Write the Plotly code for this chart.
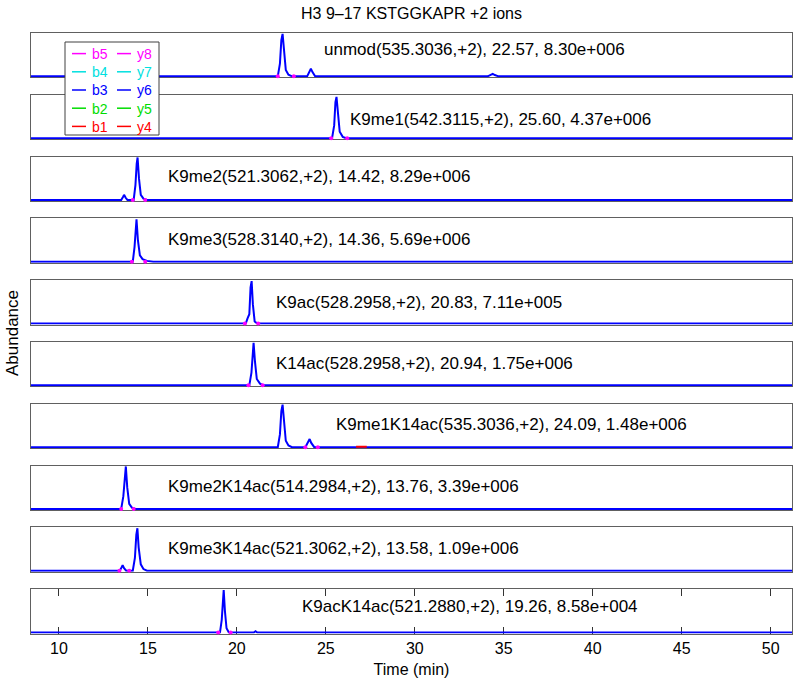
import plotly.graph_objects as go

# ---------------- data ----------------
title_text = "H3 9–17 KSTGGKAPR +2 ions"
panel_labels = [
    "unmod(535.3036,+2), 22.57, 8.30e+006",
    "K9me1(542.3115,+2), 25.60, 4.37e+006",
    "K9me2(521.3062,+2), 14.42, 8.29e+006",
    "K9me3(528.3140,+2), 14.36, 5.69e+006",
    "K9ac(528.2958,+2), 20.83, 7.11e+005",
    "K14ac(528.2958,+2), 20.94, 1.75e+006",
    "K9me1K14ac(535.3036,+2), 24.09, 1.48e+006",
    "K9me2K14ac(514.2984,+2), 13.76, 3.39e+006",
    "K9me3K14ac(521.3062,+2), 13.58, 1.09e+006",
    "K9acK14ac(521.2880,+2), 19.26, 8.58e+004",
]
label_x = [24.78, 26.24, 16.01, 16.01, 22.08, 22.08, 25.45, 16.01, 16.01, 23.54]
label_yfrac = [0.62, 0.45, 0.55, 0.52, 0.49, 0.52, 0.53, 0.52, 0.52, 0.62]

# normalised y6 chromatograms (time in min, relative abundance)
t1 = [8.4, 22.3, 22.42, 22.5, 22.57, 22.65, 22.75, 22.9, 23.1, 23.95, 24.08, 24.16, 24.25, 24.4, 34.1, 34.28, 34.38, 34.5, 34.7, 51.2]
i1 = [0, 0, 0.3, 0.85, 1.0, 0.55, 0.15, 0.04, 0, 0, 0.12, 0.18, 0.1, 0, 0, 0.04, 0.06, 0.03, 0, 0]
t2 = [8.4, 25.35, 25.47, 25.54, 25.6, 25.68, 25.78, 25.95, 26.15, 51.2]
i2 = [0, 0, 0.3, 0.85, 0.97, 0.6, 0.15, 0.03, 0, 0]
t3 = [8.4, 13.5, 13.6, 13.66, 13.75, 13.85, 14.2, 14.3, 14.37, 14.42, 14.5, 14.6, 14.75, 14.95, 51.2]
i3 = [0, 0, 0.07, 0.12, 0.05, 0, 0, 0.35, 0.85, 1.0, 0.5, 0.12, 0.03, 0, 0]
t4 = [8.4, 14.15, 14.25, 14.31, 14.36, 14.44, 14.55, 14.7, 14.95, 15.3, 51.2]
i4 = [0, 0, 0.35, 0.85, 1.0, 0.5, 0.15, 0.06, 0.02, 0, 0]
t5 = [8.4, 20.5, 20.6, 20.7, 20.77, 20.83, 20.9, 21.0, 21.15, 51.2]
i5 = [0, 0, 0.12, 0.22, 0.85, 1.0, 0.45, 0.05, 0, 0]
t6 = [8.4, 20.7, 20.82, 20.89, 20.94, 21.02, 21.12, 21.3, 21.5, 51.2]
i6 = [0, 0, 0.3, 0.85, 1.0, 0.55, 0.15, 0.04, 0, 0]
t7 = [8.4, 22.3, 22.42, 22.5, 22.57, 22.65, 22.75, 22.9, 23.1, 23.85, 24.0, 24.09, 24.18, 24.35, 51.2]
i7 = [0, 0, 0.3, 0.85, 1.0, 0.55, 0.15, 0.04, 0, 0, 0.13, 0.19, 0.1, 0, 0]
t8 = [8.4, 13.5, 13.62, 13.7, 13.76, 13.84, 13.95, 14.1, 14.3, 51.2]
i8 = [0, 0, 0.3, 0.85, 1.0, 0.5, 0.12, 0.03, 0, 0]
t9 = [8.4, 13.42, 13.52, 13.58, 13.66, 13.78, 14.15, 14.27, 14.35, 14.41, 14.48, 14.6, 14.75, 14.95, 51.2]
i9 = [0, 0, 0.08, 0.13, 0.06, 0, 0, 0.3, 0.85, 1.0, 0.55, 0.15, 0.04, 0, 0]
t10 = [8.4, 19.05, 19.15, 19.21, 19.26, 19.33, 19.42, 19.55, 20.95, 21.05, 21.15, 51.2]
i10 = [0, 0, 0.3, 0.85, 1.0, 0.5, 0.1, 0, 0, 0.03, 0, 0]
times = [t1, t2, t3, t4, t5, t6, t7, t8, t9, t10]
intens = [i1, i2, i3, i4, i5, i6, i7, i8, i9, i10]

# peak boundary markers
bounds = [[22.3, 23.2], [25.3, 26.2], [14.15, 14.85], [14.1, 14.85], [20.45, 21.2],
          [20.65, 21.45], [23.85, 24.55], [13.5, 14.2], [13.4, 13.95], [18.95, 19.65]]
# y4 trace fragment visible in panel 7
y4_t7 = [26.7, 27.3]
y4_i7 = [0.01, 0.01]

legend_col1 = ["b5", "b4", "b3", "b2", "b1"]
legend_col2 = ["y8", "y7", "y6", "y5", "y4"]
legend_colors = ["#ff00ff", "#00e0e0", "#0000ff", "#00dd00", "#ff0000"]

x_ticks = [10, 15, 20, 25, 30, 35, 40, 45, 50]
x_range = [8.43, 51.2]

# ---------------- layout helpers ----------------
W, H = 800, 686
PL, PR, PT, PB = 31, 792, 33, 634   # plot area in pixels
PW = PR - PL
PH = PB - PT
FONT = "Liberation Sans, Arial, Helvetica, sans-serif"


def px2x(px):
    return (px - PL) / PW


def py2y(py):
    return (PB - py) / PH


n = len(times)
fig = go.Figure()
layout = dict(
    width=W, height=H,
    margin=dict(l=PL, r=W - PR, t=PT, b=H - PB),
    plot_bgcolor="white", paper_bgcolor="white",
    showlegend=False,
    font=dict(family=FONT, size=16, color="black"),
)

annotations = []
shapes = []
for k in range(n):
    sfx = "" if k == 0 else str(k + 1)
    top = PT + 61.8 * k
    bot = top + 44.4
    dom = [max(0.0, py2y(bot)), min(1.0, py2y(top))]
    is_last = k == n - 1
    layout["xaxis" + sfx] = dict(
        domain=[0, 1], range=x_range, anchor="y" + sfx,
        showline=True, linecolor="#606060", linewidth=1, mirror="ticks" if is_last else True,
        showgrid=False, zeroline=False,
        ticks="inside" if is_last else "", ticklen=7, tickcolor="#333333",
        tickvals=x_ticks, showticklabels=is_last,
        tickfont=dict(size=16, family=FONT),
        layer="below traces",
        title=dict(text="Time (min)", font=dict(size=16, family=FONT), standoff=8) if is_last else None,
    )
    layout["yaxis" + sfx] = dict(
        domain=dom, range=[-0.025, 1.02], anchor="x" + sfx,
        showline=True, linecolor="#606060", linewidth=1, mirror=True,
        showgrid=False, zeroline=False, ticks="", showticklabels=False,
        layer="below traces",
    )
    fig.add_trace(go.Scatter(
        x=times[k], y=intens[k], mode="lines",
        line=dict(color="#0000ff", width=2), xaxis="x" + sfx, yaxis="y" + sfx,
        hoverinfo="skip",
    ))
    fig.add_trace(go.Scatter(
        x=bounds[k], y=[0, 0], mode="markers",
        marker=dict(color="#ff00ff", size=4), xaxis="x" + sfx, yaxis="y" + sfx,
        hoverinfo="skip", cliponaxis=False,
    ))
    if k == 6:
        fig.add_trace(go.Scatter(
            x=y4_t7, y=y4_i7, mode="lines",
            line=dict(color="#ff0000", width=2), xaxis="x" + sfx, yaxis="y" + sfx,
            hoverinfo="skip",
        ))
    annotations.append(dict(
        text=panel_labels[k], x=label_x[k], xref="x" + sfx,
        y=label_yfrac[k], yref="y" + sfx + " domain",
        xanchor="left", yanchor="middle", showarrow=False,
        font=dict(size=17, family=FONT, color="black"),
    ))

# title and y label
annotations.append(dict(text=title_text, x=0.5, xref="paper", y=py2y(13), yref="paper",
                        xanchor="center", yanchor="middle", showarrow=False,
                        font=dict(size=16, family=FONT)))
annotations.append(dict(text="Abundance", x=px2x(12), xref="paper", y=py2y(333), yref="paper",
                        xanchor="center", yanchor="middle", showarrow=False, textangle=-90,
                        font=dict(size=17, family=FONT)))

# legend box (drawn manually, two columns as in the reference)
shapes.append(dict(type="rect", xref="paper", yref="paper",
                   x0=px2x(65), x1=px2x(159), y0=py2y(135), y1=py2y(42),
                   fillcolor="white", line=dict(color="#404040", width=1), layer="above"))
row_gap = 18.2
for r in range(len(legend_col1)):
    yc = 53.6 + row_gap * r
    col = legend_colors[r]
    for (lx0, lx1) in [(72, 86), (117, 131)]:
        shapes.append(dict(type="line", xref="paper", yref="paper",
                           x0=px2x(lx0), x1=px2x(lx1), y0=py2y(yc), y1=py2y(yc),
                           line=dict(color=col, width=1.5), layer="above"))
for (tx, names) in [(90, legend_col1), (135, legend_col2)]:
    txt = "<br>".join(f'<span style="color:{c}">{nm}</span>' for nm, c in zip(names, legend_colors))
    annotations.append(dict(text=txt, x=px2x(tx), xref="paper", y=py2y(53.6 + 2 * row_gap), yref="paper",
                            xanchor="left", yanchor="middle", align="left", showarrow=False,
                            font=dict(size=14, family=FONT)))

layout["annotations"] = annotations
layout["shapes"] = shapes
fig.update_layout(**layout)
fig.write_html("out.html", config={"displayModeBar": False},
               post_script="document.body.style.margin='0';")
